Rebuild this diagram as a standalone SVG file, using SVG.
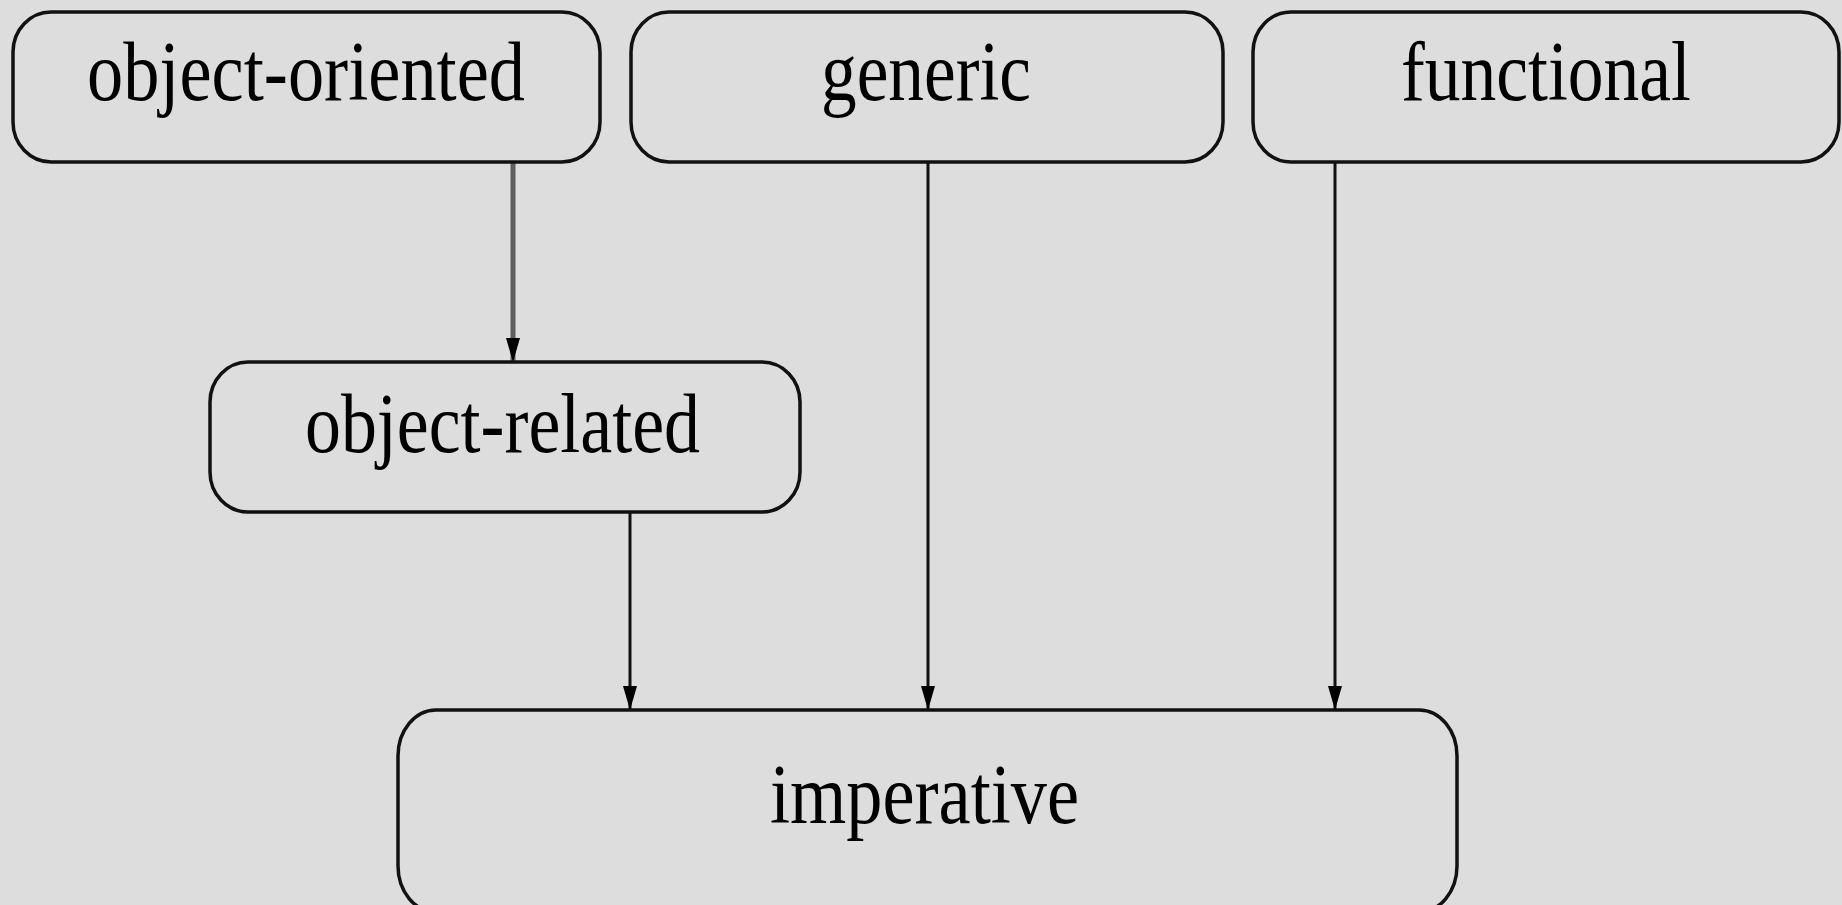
<svg xmlns="http://www.w3.org/2000/svg" width="1842" height="905" viewBox="0 0 1842 905">
  <style>
    .box { fill: none; stroke: #111; stroke-width: 3.5; }
    .label { font-family: "Liberation Serif", "Times New Roman", serif; font-size: 84px; fill: #000; text-anchor: middle; }
    .edge { fill: none; stroke: #111; stroke-width: 3; }
    .edge-soft { fill: none; stroke: #5e5e5e; stroke-width: 5; }
  </style>
  <defs>
    <marker id="arrow" markerUnits="userSpaceOnUse" viewBox="0 -7 24 14" refX="24" refY="0" markerWidth="24" markerHeight="14" orient="auto">
      <path d="M0,-7 L24,0 L0,7 z" fill="#000"/>
    </marker>
  </defs>
  <rect x="0" y="0" width="1842" height="905" fill="#dddddd"/>

  <!-- edges -->
  <g id="connectors">
    <line class="edge-soft" x1="513" y1="162" x2="513" y2="362" marker-end="url(#arrow)"/>
    <line class="edge" x1="630" y1="512" x2="630" y2="710" marker-end="url(#arrow)"/>
    <line class="edge" x1="928" y1="162" x2="928" y2="710" marker-end="url(#arrow)"/>
    <line class="edge" x1="1335" y1="162" x2="1335" y2="710" marker-end="url(#arrow)"/>
  </g>

  <!-- nodes -->
  <g id="node-object-oriented">
    <rect class="box" x="13" y="12" width="587" height="150" rx="38" ry="40"/>
    <text class="label" x="306" y="100" textLength="438" lengthAdjust="spacingAndGlyphs">object-oriented</text>
  </g>
  <g id="node-generic">
    <rect class="box" x="631" y="12" width="592" height="150" rx="38" ry="40"/>
    <text class="label" x="926" y="100" textLength="210" lengthAdjust="spacingAndGlyphs">generic</text>
  </g>
  <g id="node-functional">
    <rect class="box" x="1253" y="12" width="586" height="150" rx="38" ry="40"/>
    <text class="label" x="1546" y="100" textLength="290" lengthAdjust="spacingAndGlyphs">functional</text>
  </g>
  <g id="node-object-related">
    <rect class="box" x="210" y="362" width="590" height="150" rx="38" ry="40"/>
    <text class="label" x="502.5" y="452" textLength="395" lengthAdjust="spacingAndGlyphs">object-related</text>
  </g>
  <g id="node-imperative">
    <rect class="box" x="398" y="710" width="1059" height="202" rx="38" ry="46"/>
    <text class="label" x="924.5" y="823" textLength="309" lengthAdjust="spacingAndGlyphs">imperative</text>
  </g>
</svg>
